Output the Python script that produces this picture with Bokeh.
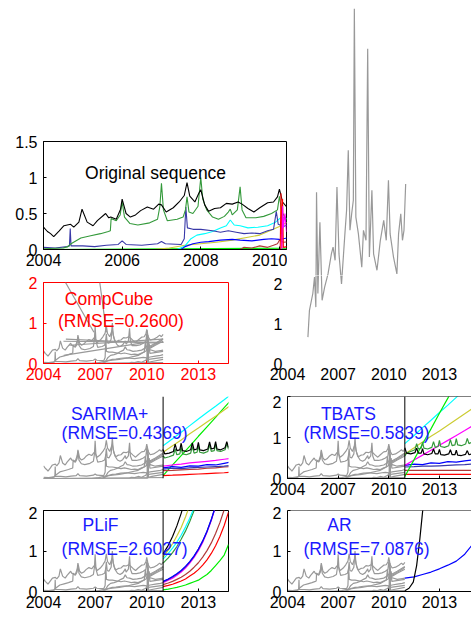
from bokeh.plotting import figure
from bokeh.layouts import column, row
from bokeh.models import Range1d, FixedTicker, Span
from bokeh.core.properties import value
from bokeh.embed import file_html
from bokeh.resources import INLINE

FONT = "Liberation Sans"
TICK_PX = "16px"
TEXT_PX = "17.5px"
GRAY = "#999999"

# ---------------- data ----------------
black = [(2004.0, 0.31), (2004.1, 0.25), (2004.18, 0.22), (2004.26, 0.18), (2004.4, 0.26), (2004.52, 0.33),
         (2004.69, 0.35), (2004.77, 0.31), (2004.9, 0.38), (2004.98, 0.56), (2005.11, 0.38), (2005.26, 0.33),
         (2005.37, 0.40), (2005.58, 0.50), (2005.66, 0.44), (2005.71, 0.45), (2005.85, 0.42), (2005.96, 0.56),
         (2006.0, 0.70), (2006.1, 0.50), (2006.21, 0.45), (2006.34, 0.48), (2006.47, 0.54), (2006.64, 0.59),
         (2006.8, 0.56), (2006.93, 0.63), (2007.0, 0.62), (2007.12, 0.52), (2007.3, 0.58), (2007.45, 0.66),
         (2007.58, 0.75), (2007.65, 0.93), (2007.72, 0.74), (2007.85, 0.66), (2007.95, 0.78), (2008.0, 0.83),
         (2008.1, 0.62), (2008.2, 0.53), (2008.35, 0.57), (2008.5, 0.58), (2008.65, 0.64), (2008.8, 0.63),
         (2008.95, 0.66), (2009.05, 0.63), (2009.2, 0.57), (2009.35, 0.52), (2009.5, 0.58), (2009.7, 0.65),
         (2009.85, 0.66), (2009.95, 0.73), (2010.0, 0.84), (2010.08, 0.66), (2010.2, 0.58), (2010.4, 0.60),
         (2010.6, 0.65), (2010.75, 0.70), (2010.85, 0.66), (2010.95, 0.72)]
green = [(2004.0, 0.01), (2004.5, 0.02), (2004.62, 0.04), (2004.7, 0.08), (2004.95, 0.16), (2005.2, 0.19),
         (2005.45, 0.22), (2005.65, 0.25), (2005.7, 0.26), (2005.72, 0.43), (2005.85, 0.40), (2005.95, 0.48),
         (2006.0, 0.66), (2006.06, 0.45), (2006.2, 0.36), (2006.4, 0.34), (2006.7, 0.37), (2006.9, 0.42),
         (2006.96, 0.60), (2007.0, 0.92), (2007.05, 0.55), (2007.15, 0.40), (2007.4, 0.42), (2007.55, 0.45),
         (2007.61, 0.55), (2007.65, 0.73), (2007.7, 0.52), (2007.8, 0.50), (2007.93, 0.60), (2008.0, 1.0),
         (2008.05, 0.70), (2008.15, 0.55), (2008.3, 0.45), (2008.45, 0.42), (2008.6, 0.46), (2008.7, 0.52),
         (2008.75, 0.56), (2008.8, 0.48), (2008.93, 0.55), (2009.0, 0.87), (2009.05, 0.55), (2009.15, 0.44),
         (2009.4, 0.44), (2009.6, 0.46), (2009.8, 0.50), (2009.95, 0.55), (2010.0, 0.74), (2010.06, 0.52),
         (2010.2, 0.40), (2010.4, 0.45), (2010.6, 0.50), (2010.8, 0.55), (2010.95, 0.60)]
slate = [(2004.0, 0.03), (2004.3, 0.02), (2004.6, 0.04), (2004.66, 0.05), (2004.68, 0.29), (2004.7, 0.05),
         (2005.0, 0.05), (2005.3, 0.04), (2005.6, 0.06), (2005.9, 0.07), (2006.0, 0.12), (2006.1, 0.07),
         (2006.5, 0.06), (2006.9, 0.08), (2007.0, 0.11), (2007.1, 0.08), (2007.5, 0.07), (2007.58, 0.15),
         (2007.62, 0.59), (2007.66, 0.30), (2007.8, 0.28), (2008.0, 0.28), (2008.3, 0.26), (2008.5, 0.24),
         (2008.7, 0.26), (2008.9, 0.24), (2009.1, 0.22), (2009.3, 0.23), (2009.5, 0.22), (2009.7, 0.26),
         (2009.85, 0.28), (2009.92, 0.53), (2009.97, 0.35), (2010.1, 0.32), (2010.2, 0.34), (2010.5, 0.30),
         (2010.8, 0.32), (2010.95, 0.33)]
blue = [(2004.0, 0.0), (2007.5, 0.0), (2007.6, 0.04), (2007.8, 0.08), (2008.0, 0.10), (2008.2, 0.11),
        (2008.5, 0.13), (2008.8, 0.14), (2009.0, 0.13), (2009.3, 0.12), (2009.6, 0.14), (2009.8, 0.15),
        (2010.0, 0.14), (2010.2, 0.16), (2010.5, 0.18), (2010.8, 0.20), (2010.95, 0.22)]
cyan = [(2004.0, 0.0), (2007.4, 0.0), (2007.6, 0.05), (2007.75, 0.15), (2007.9, 0.20), (2008.1, 0.22),
        (2008.3, 0.25), (2008.5, 0.30), (2008.65, 0.33), (2008.75, 0.41), (2008.85, 0.34), (2009.0, 0.33),
        (2009.2, 0.30), (2009.45, 0.31), (2009.7, 0.33), (2009.9, 0.38), (2010.05, 0.45), (2010.2, 0.43),
        (2010.5, 0.50), (2010.95, 0.62)]
yellow = [(2004.0, 0.0), (2006.8, 0.0), (2007.2, 0.02), (2007.6, 0.06), (2008.0, 0.08), (2008.4, 0.10),
          (2008.8, 0.13), (2009.2, 0.17), (2009.5, 0.20), (2009.8, 0.27), (2010.0, 0.32), (2010.2, 0.38),
          (2010.5, 0.45), (2010.95, 0.55)]
red = [(2004.0, 0.0), (2010.02, 0.0), (2010.04, 0.78), (2010.06, 0.02), (2010.08, 0.70), (2010.1, 0.03),
       (2010.3, 0.05), (2010.95, 0.10)]
brown = [(2004.0, 0.0), (2009.0, 0.0), (2009.1, 0.03), (2009.3, 0.02), (2009.5, 0.05), (2009.7, 0.03),
         (2009.85, 0.06), (2009.95, 0.08), (2010.0, 0.13), (2010.1, 0.10), (2010.95, 0.15)]
magenta = [(2004.0, 0.0), (2010.06, 0.0), (2010.08, 0.60), (2010.1, 0.30), (2010.14, 0.50), (2010.18, 0.25),
           (2010.95, 0.30)]
lime = [(2004.0, 0.0), (2010.95, 0.02)]

# tall gray series (right column, second row)
spike = [(2005.21, 0.66), (2005.30, 1.33), (2005.50, 1.75), (2005.60, 2.16), (2005.68, 1.41), (2005.72, 4.28),
         (2005.80, 1.75), (2005.92, 3.53), (2006.05, 1.58), (2006.20, 1.91), (2006.40, 2.24), (2006.60, 2.74),
         (2006.70, 2.91), (2006.82, 2.58), (2006.93, 4.41), (2007.05, 2.74), (2007.20, 1.99), (2007.40, 3.24),
         (2007.50, 3.83), (2007.60, 5.33), (2007.70, 3.33), (2007.80, 3.74), (2007.90, 4.08), (2007.96, 8.87),
         (2008.05, 3.66), (2008.20, 3.24), (2008.40, 2.41), (2008.50, 3.33), (2008.65, 3.08), (2008.75, 7.87),
         (2008.85, 2.66), (2009.00, 4.33), (2009.10, 2.74), (2009.30, 2.33), (2009.50, 3.08), (2009.70, 3.58),
         (2009.85, 3.08), (2009.98, 4.58), (2010.08, 3.24), (2010.28, 2.66), (2010.48, 2.24), (2010.58, 3.24),
         (2010.71, 3.74), (2010.81, 3.08), (2010.90, 3.33), (2011.00, 4.49)]

# extra straight gray strokes inside the CompCube panel
cc_seg_x = [[2005.28, 2006.93], [2007.27, 2007.66], [2005.18, 2010.03], [2010.03, 2010.03],
            [2005.16, 2010.98], [2005.5, 2010.9], [2005.3, 2010.7]]
cc_seg_y = [[2.0, 0.77], [2.0, 0.77], [0.2, 0.53], [0.0, 0.82], [0.55, 0.52], [0.45, 0.6], [0.6, 0.5]]

split_year = 2010.95

fc_t = [2010.95, 2011.5, 2012.0, 2012.5, 2013.0, 2013.5, 2014.0, 2014.5, 2014.9]
ss_t = [2010.95, 2011.05, 2011.3, 2011.55, 2011.65, 2011.75, 2011.92, 2012.0, 2012.08, 2012.3, 2012.55,
        2012.65, 2012.75, 2012.92, 2013.0, 2013.08, 2013.3, 2013.55, 2013.65, 2013.75, 2013.92, 2014.0,
        2014.08, 2014.3, 2014.55, 2014.65, 2014.75, 2014.9]

sar_cyan = [0.80, 0.97, 1.13, 1.29, 1.45, 1.61, 1.76, 1.92, 2.05]
sar_yellow = [0.64, 0.80, 0.94, 1.09, 1.23, 1.38, 1.52, 1.67, 1.79]
sar_lime = [0.07, 0.33, 0.56, 0.79, 1.03, 1.26, 1.49, 1.73, 1.91]
sar_magenta = [0.30, 0.33, 0.35, 0.38, 0.40, 0.42, 0.44, 0.47, 0.49]
sar_blue = [0.26, 0.29, 0.27, 0.31, 0.30, 0.34, 0.33, 0.37, 0.40]
sar_slate = [0.23, 0.25, 0.24, 0.26, 0.27, 0.28, 0.29, 0.30, 0.32]
sar_brown = [0.19, 0.20, 0.21, 0.22, 0.23, 0.25, 0.26, 0.28, 0.29]
sar_red = [0.07, 0.08, 0.09, 0.10, 0.11, 0.12, 0.13, 0.14, 0.15]
sar_black = [0.70, 0.60, 0.62, 0.66, 0.84, 0.68, 0.70, 0.86, 0.68, 0.66, 0.70, 0.87, 0.70, 0.72, 0.88, 0.70,
             0.68, 0.72, 0.89, 0.72, 0.74, 0.90, 0.72, 0.70, 0.75, 0.90, 0.76, 0.80]
sar_green = [0.55, 0.50, 0.53, 0.57, 0.72, 0.58, 0.60, 0.76, 0.60, 0.58, 0.62, 0.78, 0.62, 0.64, 0.80, 0.64,
             0.62, 0.66, 0.82, 0.66, 0.68, 0.84, 0.68, 0.66, 0.70, 0.85, 0.72, 0.76]

tb_lime = [0.05, 0.46, 0.84, 1.21, 1.59, 1.96, 2.34, 2.71, 3.01]
tb_cyan = [0.85, 1.05, 1.24, 1.42, 1.61, 1.79, 1.98, 2.16, 2.31]
tb_yellow = [0.60, 0.75, 0.89, 1.03, 1.16, 1.30, 1.44, 1.58, 1.69]
tb_magenta = [0.32, 0.45, 0.57, 0.69, 0.81, 0.93, 1.05, 1.17, 1.27]
tb_blue = [0.32, 0.35, 0.34, 0.38, 0.37, 0.41, 0.40, 0.43, 0.45]
tb_slate = [0.28, 0.29, 0.30, 0.30, 0.31, 0.32, 0.33, 0.34, 0.35]
tb_brown = [0.20, 0.20, 0.20, 0.20, 0.20, 0.20, 0.20, 0.20, 0.20]
tb_red = [0.10, 0.10, 0.10, 0.10, 0.10, 0.10, 0.10, 0.10, 0.10]
tb_black = [0.75, 0.62, 0.60, 0.63, 0.74, 0.62, 0.62, 0.73, 0.60, 0.58, 0.61, 0.72, 0.60, 0.60, 0.71, 0.58,
            0.57, 0.60, 0.70, 0.58, 0.58, 0.69, 0.57, 0.56, 0.59, 0.68, 0.58, 0.60]
tb_green = [0.55, 0.62, 0.66, 0.70, 0.85, 0.72, 0.74, 0.88, 0.74, 0.72, 0.76, 0.90, 0.76, 0.78, 0.93, 0.78,
            0.76, 0.80, 0.95, 0.80, 0.82, 0.97, 0.82, 0.80, 0.84, 0.98, 0.85, 0.88]

plif_t = [2010.95, 2011.25, 2011.5, 2011.75, 2012.0, 2012.25, 2012.5, 2012.75, 2013.0, 2013.25, 2013.5,
          2013.75, 2014.0, 2014.25, 2014.5, 2014.75]
pl_black = [0.93, 1.14, 1.36, 1.62, 1.93, 2.30]
pl_yellow = [0.85, 1.02, 1.18, 1.37, 1.58, 1.84, 2.13]
pl_cyan = [0.80, 0.94, 1.07, 1.22, 1.39, 1.59, 1.81, 2.07]
pl_green = [0.70, 0.83, 0.96, 1.11, 1.29, 1.49, 1.73, 2.00, 2.32]
pl_blue = [0.25, 0.31, 0.37, 0.44, 0.52, 0.62, 0.74, 0.88, 1.05, 1.25, 1.49, 1.78, 2.12]
pl_magenta = [0.22, 0.28, 0.33, 0.40, 0.48, 0.58, 0.70, 0.84, 1.01, 1.21, 1.46, 1.75, 2.10]
pl_slate = [0.24, 0.30, 0.36, 0.43, 0.51, 0.61, 0.73, 0.87, 1.04, 1.24, 1.48, 1.77, 2.11]
pl_brown = [0.17, 0.21, 0.25, 0.30, 0.35, 0.42, 0.50, 0.60, 0.71, 0.85, 1.01, 1.20, 1.43, 1.70, 2.02]
pl_red = [0.12, 0.15, 0.18, 0.22, 0.26, 0.31, 0.38, 0.45, 0.54, 0.65, 0.78, 0.94, 1.13, 1.36, 1.63, 1.96]
pl_lime = [0.04, 0.06, 0.08, 0.10, 0.13, 0.16, 0.20, 0.24, 0.28, 0.35, 0.42, 0.52, 0.64, 0.76, 0.90, 1.16]

ar_black_t = [2010.95, 2011.2, 2011.45, 2011.65, 2011.84, 2012.0, 2012.1]
ar_black = [0.02, 0.08, 0.23, 0.64, 1.30, 1.96, 2.40]
ar_blue = [0.33, 0.36, 0.42, 0.48, 0.56, 0.65, 0.75, 0.92, 1.13]

COLORS = {"black": "#000000", "green": "#33993a", "slate": "#3838a8", "blue": "#0000ff",
          "cyan": "#00ffff", "yellow": "#cccc33", "red": "#ff0000", "brown": "#b03a3a",
          "magenta": "#ff00ff", "lime": "#00ee00"}
ORIG = [("lime", lime), ("yellow", yellow), ("cyan", cyan), ("blue", blue), ("slate", slate),
        ("brown", brown), ("green", green), ("black", black), ("red", red), ("magenta", magenta)]

LEFT_X = (2004, 2014.75)
RIGHT_X = (2004, 2014.9)
YEARS = [2004, 2007, 2010, 2013]


def unzip(pairs):
    return [a for a, _ in pairs], [b for _, b in pairs]


def make(w, h, l, r, t, b, xr, yr, axes=True):
    kw = dict(width=w, height=h, min_border_left=l, min_border_right=r, min_border_top=t,
              min_border_bottom=b, x_range=Range1d(*xr), y_range=Range1d(*yr),
              output_backend="svg", toolbar_location=None, tools="")
    if not axes:
        kw.update(x_axis_type=None, y_axis_type=None)
    p = figure(**kw)
    p.frame_align = False
    p.outline_line_color = None
    p.background_fill_color = "white"
    p.border_fill_color = "white"
    if axes:
        p.grid.grid_line_color = None
    return p


def style(p, xticks, yticks, color="black", lines=True):
    for ax in (p.xaxis[0], p.yaxis[0]):
        ax.major_label_text_font = FONT
        ax.major_label_text_font_size = TICK_PX
        ax.major_label_text_color = color
        ax.axis_line_color = color if lines else None
        ax.axis_line_width = 1
        ax.major_tick_line_color = color if lines else None
        ax.major_tick_in = 3
        ax.major_tick_out = 0
        ax.minor_tick_line_color = None
    p.xaxis[0].ticker = FixedTicker(ticks=xticks)
    p.yaxis[0].ticker = FixedTicker(ticks=yticks)
    p.xaxis[0].major_label_standoff = 4
    p.yaxis[0].major_label_standoff = 6


def gray_lines(p):
    for _, pairs in ORIG:
        t, v = unzip(pairs)
        p.line(t, v, line_color=GRAY, line_width=1.2)


def labels(p, xs, ys, texts, color):
    p.text(x=xs, y=ys, text=texts, text_font=value(FONT), text_font_size=value(TEXT_PX),
           text_color=color, text_align="center", text_baseline="middle")


def split_line(p):
    p.add_layout(Span(location=split_year, dimension="height", line_color="black", line_width=1))


# ---------------- Row 1: original sequence + top of tall gray plot ----------------
orig = make(287, 275, 43, 1, 141, 26, (2004, 2010.18), (0, 1.5))
style(orig, [2004, 2006, 2008, 2010], [0, 0.5, 1, 1.5])
orig.yaxis[0].major_label_overrides = {0: "0", 0.5: "0.5", 1: "1", 1.5: "1.5"}
orig.outline_line_color = "black"
for name, pairs in ORIG:
    t, v = unzip(pairs)
    orig.line(t, v, line_color=COLORS[name], line_width=1.1)
labels(orig, [2006.85], [1.06], ["Original sequence"], "black")

top_right = make(184, 275, 0, 0, 0, 0, RIGHT_X, (2.2, 9.075), axes=False)
st, sv = unzip(spike)
top_right.line(st, sv, line_color=GRAY, line_width=1.2)

# ---------------- Row 2: CompCube + bottom of tall gray plot ----------------
comp = make(266, 120, 43, 38, 7, 32, LEFT_X, (0, 2))
style(comp, YEARS, [0, 1, 2], color="red")
comp.outline_line_color = "red"
gray_lines(comp)
comp.multi_line(cc_seg_x, cc_seg_y, line_color=GRAY, line_width=1.2)
labels(comp, [2007.81, 2008.5], [1.60, 1.06], ["CompCube", "(RMSE=0.2600)"], "red")

bot_right = make(205, 120, 21, 0, 0, 32, RIGHT_X, (0, 2.2))
style(bot_right, YEARS, [0, 1, 2], lines=False)
bot_right.yaxis[0].major_label_standoff = 5
bot_right.line(st, sv, line_color=GRAY, line_width=1.2)


def forecast(p, t, series):
    for name, v in series:
        p.line(t[:len(v)], v, line_color=COLORS[name], line_width=1.2)


def right_box(p):
    p.add_layout(Span(location=2, dimension="width", line_color="black", line_width=1))


# ---------------- Row 3: SARIMA+ and TBATS ----------------
sar = make(266, 111, 43, 38, 1, 28, LEFT_X, (0, 2), axes=False)
gray_lines(sar)
forecast(sar, fc_t, [("lime", sar_lime), ("yellow", sar_yellow), ("cyan", sar_cyan), ("red", sar_red),
                     ("brown", sar_brown), ("slate", sar_slate), ("blue", sar_blue), ("magenta", sar_magenta)])
forecast(sar, ss_t, [("green", sar_green), ("black", sar_black)])
split_line(sar)
labels(sar, [2007.84, 2008.71], [1.585, 1.12], ["SARIMA+", "(RMSE=0.4369)"], "#1a1aff")

tb = make(205, 111, 21, 0, 1, 28, RIGHT_X, (0, 2))
style(tb, YEARS, [0, 1, 2])
right_box(tb)
gray_lines(tb)
forecast(tb, fc_t, [("red", tb_red), ("brown", tb_brown), ("slate", tb_slate), ("blue", tb_blue),
                    ("magenta", tb_magenta), ("yellow", tb_yellow), ("cyan", tb_cyan), ("lime", tb_lime)])
forecast(tb, ss_t, [("green", tb_green), ("black", tb_black)])
split_line(tb)
labels(tb, [2007.61, 2008.68], [1.585, 1.12], ["TBATS", "(RMSE=0.5839)"], "#1a1aff")

# ---------------- Row 4: PLiF and AR ----------------
pl = make(266, 111, 43, 38, 4, 26, LEFT_X, (0, 2))
style(pl, YEARS, [0, 1, 2])
pl.outline_line_color = "black"
gray_lines(pl)
forecast(pl, plif_t, [("lime", pl_lime), ("red", pl_red), ("brown", pl_brown), ("magenta", pl_magenta),
                      ("slate", pl_slate), ("blue", pl_blue), ("green", pl_green), ("cyan", pl_cyan),
                      ("yellow", pl_yellow), ("black", pl_black)])
split_line(pl)
labels(pl, [2007.31, 2008.71], [1.63, 1.06], ["PLiF", "(RMSE=2.6027)"], "#1a1aff")

ar = make(205, 111, 21, 0, 4, 26, RIGHT_X, (0, 2))
style(ar, YEARS, [0, 1, 2])
right_box(ar)
gray_lines(ar)
ar.line(fc_t, ar_blue, line_color=COLORS["blue"], line_width=1.2)
ar.line(ar_black_t, ar_black, line_color=COLORS["black"], line_width=1.2)
labels(ar, [2007.08, 2008.68], [1.63, 1.06], ["AR", "(RMSE=7.0876)"], "#1a1aff")

layout = column(row(orig, top_right), row(comp, bot_right), row(sar, tb), row(pl, ar))

with open("out.html", "w") as f:
    f.write(file_html(layout, INLINE))
